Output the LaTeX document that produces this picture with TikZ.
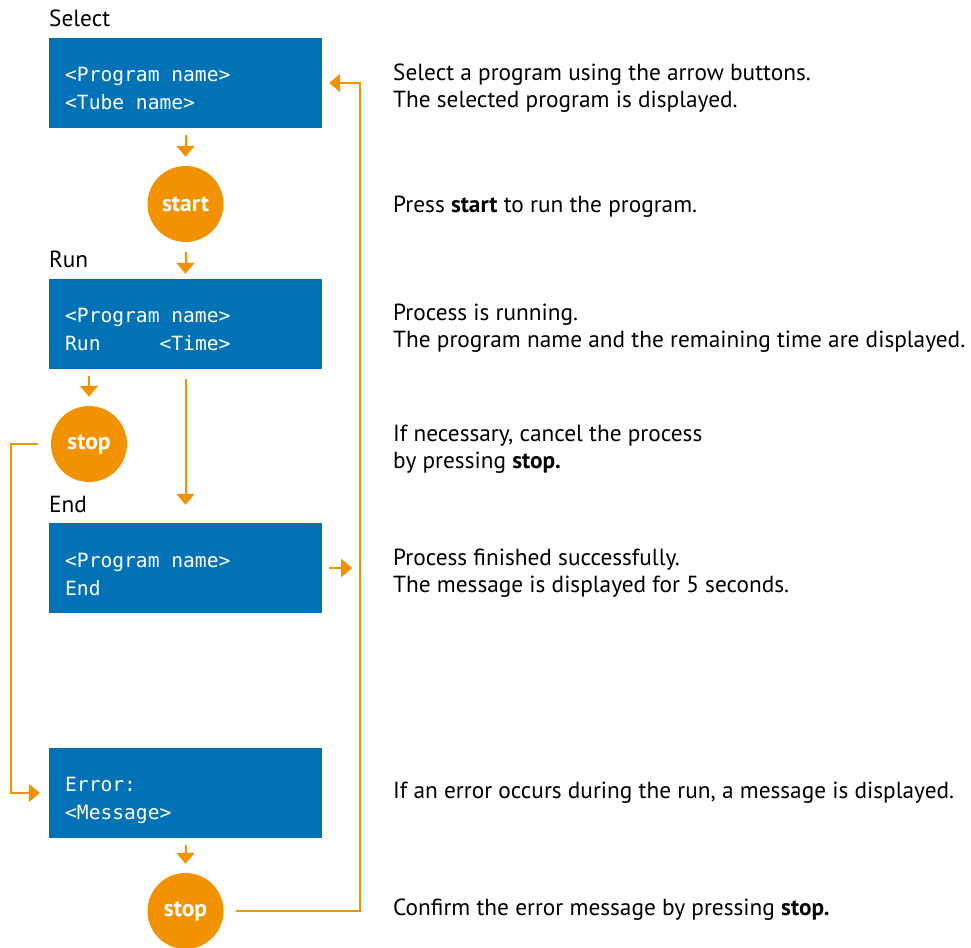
\documentclass[tikz,border=0pt]{standalone}
\usepackage{fontspec}
\setmainfont{PT Sans}
\newfontfamily\lcdfont{DejaVu Sans Mono}
\usetikzlibrary{arrows.meta}

\definecolor{lcdblue}{RGB}{0,114,181}
\definecolor{keyorange}{RGB}{243,146,0}

\tikzset{
  display/.style={fill=lcdblue, minimum width=273pt, minimum height=90pt, inner sep=0pt},
  lcd/.style={text=white, font=\lcdfont\fontsize{19.6}{28}\selectfont, align=left, inner sep=0pt, anchor=base west},
  key/.style={circle, fill=keyorange, minimum size=76pt, inner sep=0pt, text=white, font=\fontsize{23.5}{23.5}\selectfont\bfseries},
  flow/.style={draw=keyorange, line width=2pt, -{Triangle[length=11pt,width=18pt]}},
  caption/.style={font=\fontsize{23.3}{27}\selectfont, align=left, anchor=base west, inner sep=0pt},
}

\begin{document}
\begin{tikzpicture}[x=1pt,y=-1pt]
\useasboundingbox (0,0) rectangle (971,947);

% displays
\path (185.5,83) node[display] (select) {};
\path (185.5,324) node[display] (run) {};
\path (185.5,568) node[display] (finish) {};
\path (185.5,793) node[display] (error) {};
\path (65,110) node[lcd] (selecttxt) {<Program name>\\<Tube name>};
\path (65,350) node[lcd] (runtxt) {<Program name>\\Run~~~~~<Time>};
\path (65,595) node[lcd] (finishtxt) {<Program name>\\End};
\path (65,819) node[lcd] (errortxt) {Error:\\<Message>};

% keys
\path (185.5,204) node[key] (start) {start};
\path (89,444) node[key] (stoprun) {stop};
\path (185.5,911) node[key] (stoperr) {stop};

% state names
\path (49,27) node[caption] (selectlabel) {Select};
\path (49,267) node[caption] (runlabel) {Run};
\path (49,512) node[caption] (endlabel) {End};

% arrows
\draw[flow, shorten <=7pt, shorten >=9pt] (select) -- (start);
\draw[flow, shorten <=10pt, shorten >=5pt] (start) -- (run);
\draw[flow, shorten <=7pt, shorten >=9pt] (run.south -| stoprun) -- (stoprun);
\draw[flow, shorten <=10pt, shorten >=18pt] (run) -- (finish);
\draw[flow, shorten <=7pt] (finish.east) -- +(30,0);
\draw[flow, shorten <=7pt, shorten >=9pt] (error) -- (stoperr);
\coordinate (loopL) at (11,444);
\draw[flow, shorten <=13pt, shorten >=9pt] (stoprun.west) -- (loopL) |- (error.west);
\coordinate (loopR) at (360,911);
\draw[flow, shorten <=12pt, shorten >=7pt] (stoperr.east) -- (loopR) |- (select.east);

% descriptions
\path (393,107) node[caption] (selectdesc) {Select a program using the arrow buttons.\\The selected program is displayed.};
\path (393,212) node[caption] (startdesc) {Press \textbf{start} to run the program.};
\path (393,347) node[caption] (rundesc) {Process is running.\\The program name and the remaining time are displayed.};
\path (393,468) node[caption] (stopdesc) {If necessary, cancel the process\\by pressing \textbf{stop.}};
\path (393,592) node[caption] (finishdesc) {Process finished successfully.\\The message is displayed for 5 seconds.};
\path (393,798) node[caption] (errordesc) {If an error occurs during the run, a message is displayed.};
\path (393,915) node[caption] (confirmdesc) {Confirm the error message by pressing \textbf{stop.}};
\end{tikzpicture}
\end{document}
